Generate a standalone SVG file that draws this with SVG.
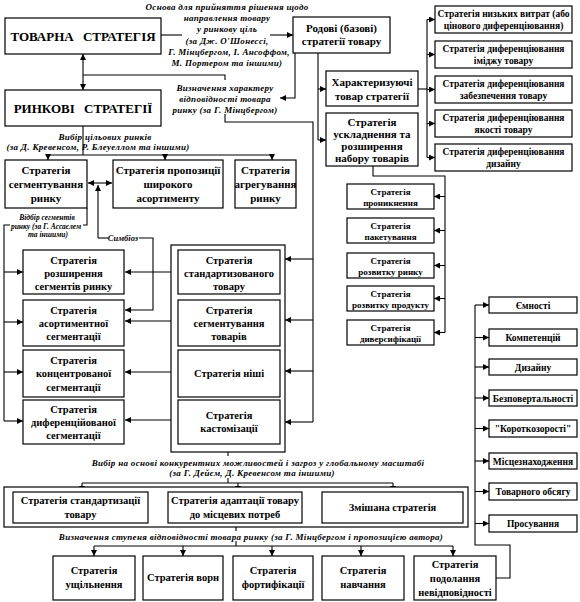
<svg xmlns="http://www.w3.org/2000/svg" width="580" height="602" viewBox="0 0 580 602">
<defs>
<marker id="a" markerUnits="userSpaceOnUse" markerWidth="7" markerHeight="6" refX="6" refY="3" orient="auto-start-reverse"><path d="M0,0 L6,3 L0,6 z" fill="#000"/></marker>
<style>
.b{fill:#fff;stroke:#000;stroke-width:1.2}
.t{font-family:"Liberation Serif",serif;font-weight:bold;text-anchor:middle;fill:#000}
.s9{font-size:9px}.s95{font-size:9.5px}.s10{font-size:10.5px}.s11{font-size:11px}.s14{font-size:13px;word-spacing:6px}
.i{font-family:"Liberation Serif",serif;font-weight:bold;font-style:italic;text-anchor:middle;fill:#000;font-size:9px;letter-spacing:0.3px}
.c{fill:none;stroke:#000;stroke-width:1.1}
.m{marker-end:url(#a)}
.d{marker-start:url(#a);marker-end:url(#a)}
</style>
</defs>
<rect width="580" height="602" fill="#fff"/>

<g id="connectors">
<path class="c d" d="M83,54 V90"/>
<path class="c" d="M83,75 H225 V80"/>
<path class="c" d="M225,114 V122 H313 V422"/>
<path class="c m" d="M313,259 H285"/>
<path class="c m" d="M313,320 H285"/>
<path class="c m" d="M313,371 H285"/>
<path class="c m" d="M313,422 H285"/>
<path class="c" d="M161,35 H182"/>
<path class="c m" d="M270,35 H293"/>
<path class="c m" d="M295,53 V98 H280"/>
<path class="c" d="M318,53 V140"/>
<path class="c m" d="M318,89 H326"/>
<path class="c m" d="M318,140 H326"/>
<path class="c" d="M418,89 H427"/>
<path class="c" d="M427,19.5 V157.5"/>
<path class="c m" d="M427,19.5 H435"/>
<path class="c m" d="M427,54.5 H435"/>
<path class="c m" d="M427,89.5 H435"/>
<path class="c m" d="M427,123.5 H435"/>
<path class="c m" d="M427,157.5 H435"/>
<path class="c" d="M373,166 V176 H445 V332.5"/>
<path class="c m" d="M445,196.5 H434"/>
<path class="c m" d="M445,230.5 H434"/>
<path class="c m" d="M445,265.5 H434"/>
<path class="c m" d="M445,298.5 H434"/>
<path class="c m" d="M445,332.5 H434"/>
<path class="c" d="M83,126 V155"/>
<path class="c" d="M48,155 H272"/>
<path class="c m" d="M48,155 V160"/>
<path class="c m" d="M165,155 V160"/>
<path class="c m" d="M272,155 V160"/>
<path class="c d" d="M88,183 H112"/>
<path class="c m" d="M98,238 V185"/>
<path class="c" d="M98,238 H108"/>
<path class="c m" d="M139,238 H153 V310 H125"/>
<path class="c" d="M87,208 V225 H83"/>
<path class="c" d="M10,225 H4 V421"/>
<path class="c m" d="M4,272 H23"/>
<path class="c m" d="M4,322 H23"/>
<path class="c m" d="M4,372 H23"/>
<path class="c m" d="M4,421 H23"/>
<path class="c d" d="M125,272 H178"/>
<path class="c d" d="M125,321 H178"/>
<path class="c d" d="M125,372 H178"/>
<path class="c d" d="M125,420 H178"/>
<path class="c" d="M228,452 V456"/>
<path class="c" d="M228,478 V483"/>
<path class="c" d="M82,483 H393"/>
<path class="c m" d="M82,483 V492"/>
<path class="c m" d="M238,483 V492"/>
<path class="c m" d="M393,483 V492"/>
<path class="c" d="M236,527 V531"/>
<path class="c" d="M236,541 V546"/>
<path class="c" d="M94,546 H453"/>
<path class="c m" d="M94,546 V556"/>
<path class="c m" d="M183,546 V556"/>
<path class="c m" d="M272,546 V556"/>
<path class="c m" d="M361,546 V556"/>
<path class="c m" d="M453,546 V556"/>
<path class="c" d="M496,578 H510 V545 H475 V305"/>
<path class="c m" d="M475,305 H489"/>
<path class="c m" d="M475,337.5 H489"/>
<path class="c m" d="M475,367 H489"/>
<path class="c m" d="M475,398 H489"/>
<path class="c m" d="M475,428.5 H489"/>
<path class="c m" d="M475,461 H489"/>
<path class="c m" d="M475,491.5 H489"/>
<path class="c m" d="M475,523.5 H489"/>
</g>

<g id="labels">
<text class="i"><tspan x="227" y="10">Основа для прийняття рішення щодо</tspan><tspan x="227" y="21">направлення товару</tspan><tspan x="227" y="32">у ринкову ціль</tspan><tspan x="227" y="44">(за Дж. О'Шонессі,</tspan><tspan x="229" y="55">Г. Мінцбергом, І. Ансоффом,</tspan><tspan x="227" y="66">М. Портером та іншими)</tspan></text>
<text class="i"><tspan x="225" y="91">Визначення характеру</tspan><tspan x="225" y="102">відповідності товара</tspan><tspan x="225" y="113">ринку (за Г. Мінцбергом)</tspan></text>
<text class="i"><tspan x="105" y="140">Вибір цільових ринків</tspan><tspan x="98" y="150">(за Д. Кревенсом, Р. Блеуеллом та іншими)</tspan></text>
<text class="i" style="font-size:7.5px;letter-spacing:0"><tspan x="47" y="220">Відбір сегментів</tspan><tspan x="46" y="228.5">ринку (за Г. Ассаєлем</tspan><tspan x="48" y="237">та іншими)</tspan></text>
<text class="i" x="123" y="241" style="font-size:8.5px;letter-spacing:0">Симбіоз</text>
<text class="i"><tspan x="258" y="466">Вибір на основі конкурентних можливостей і загроз у глобальному масштабі</tspan><tspan x="252" y="476">(за Г. Дейєм, Д. Кревенсом та іншими)</tspan></text>
<text class="i" x="251" y="540">Визначення ступеня відповідності товара ринку (за Г. Мінцбергом і пропозицією автора)</text>
</g>

<g id="tovarna"><rect class="b" x="5" y="18" width="156" height="36"/><text class="t s14" x="83" y="41">ТОВАРНА СТРАТЕГІЯ</text></g>
<g id="rynkovi"><rect class="b" x="5" y="90" width="156" height="36"/><text class="t s14" x="83" y="113">РИНКОВІ СТРАТЕГІЇ</text></g>
<g id="rodovi"><rect class="b" x="293" y="17" width="97" height="36"/><text class="t s11"><tspan x="341.5" y="32">Родові (базові)</tspan><tspan x="341.5" y="45">стратегії товару</tspan></text></g>

<g id="nyzkykh"><rect class="b" x="435" y="6" width="137" height="27"/><text class="t s95"><tspan x="503.5" y="17">Стратегія низьких витрат (або</tspan><tspan x="503.5" y="28.5">цінового диференціювання)</tspan></text></g>
<g id="imidzh"><rect class="b" x="435" y="41" width="137" height="27"/><text class="t s95"><tspan x="503.5" y="52">Стратегія диференціювання</tspan><tspan x="503.5" y="63.5">іміджу товару</tspan></text></g>
<g id="zabezpechennia"><rect class="b" x="435" y="76" width="137" height="27"/><text class="t s95"><tspan x="503.5" y="87">Стратегія диференціювання</tspan><tspan x="503.5" y="98.5">забезпечення товару</tspan></text></g>
<g id="yakosti"><rect class="b" x="435" y="110" width="137" height="27"/><text class="t s95"><tspan x="503.5" y="121">Стратегія диференціювання</tspan><tspan x="503.5" y="132.5">якості товару</tspan></text></g>
<g id="dyzainu"><rect class="b" x="435" y="144" width="137" height="27"/><text class="t s95"><tspan x="503.5" y="155">Стратегія диференціювання</tspan><tspan x="503.5" y="166.5">дизайну</tspan></text></g>

<g id="kharakteryzuiuchi"><rect class="b" x="326" y="71" width="92" height="35"/><text class="t s11"><tspan x="372" y="86">Характеризуючі</tspan><tspan x="372" y="100">товар стратегії</tspan></text></g>
<g id="uskladnennia"><rect class="b" x="326" y="113" width="92" height="53"/><text class="t s11"><tspan x="372" y="126">Стратегія</tspan><tspan x="372" y="138">ускладнення та</tspan><tspan x="372" y="150">розширення</tspan><tspan x="372" y="162">набору товарів</tspan></text></g>

<g id="pronyknennia"><rect class="b" x="347" y="184" width="87" height="25"/><text class="t s9"><tspan x="390.5" y="195">Стратегія</tspan><tspan x="390.5" y="206">проникнення</tspan></text></g>
<g id="paketuvannia"><rect class="b" x="347" y="218" width="87" height="25"/><text class="t s9"><tspan x="390.5" y="229">Стратегія</tspan><tspan x="390.5" y="240">пакетування</tspan></text></g>
<g id="rozvytku-rynku"><rect class="b" x="347" y="253" width="87" height="25"/><text class="t s9"><tspan x="390.5" y="264">Стратегія</tspan><tspan x="390.5" y="275">розвитку ринку</tspan></text></g>
<g id="rozvytku-produktu"><rect class="b" x="347" y="286" width="87" height="25"/><text class="t s9"><tspan x="390.5" y="297">Стратегія</tspan><tspan x="390.5" y="308">розвитку продукту</tspan></text></g>
<g id="dyversyfikatsii"><rect class="b" x="347" y="320" width="87" height="25"/><text class="t s9"><tspan x="390.5" y="331">Стратегія</tspan><tspan x="390.5" y="342">диверсифікації</tspan></text></g>

<g id="segmentuvannia-rynku"><rect class="b" x="5" y="160" width="82" height="48"/><text class="t s11"><tspan x="46" y="174">Стратегія</tspan><tspan x="46" y="188">сегментування</tspan><tspan x="46" y="202">ринку</tspan></text></g>
<g id="shyrokoho"><rect class="b" x="113" y="160" width="110" height="48"/><text class="t s11"><tspan x="168" y="174">Стратегія пропозиції</tspan><tspan x="168" y="188">широкого</tspan><tspan x="168" y="202">асортименту</tspan></text></g>
<g id="ahrehuvannia"><rect class="b" x="235" y="160" width="61" height="48"/><text class="t s11"><tspan x="265.5" y="174">Стратегія</tspan><tspan x="265.5" y="188">агрегування</tspan><tspan x="265.5" y="202">ринку</tspan></text></g>

<g id="rozshyrennia"><rect class="b" x="23" y="250" width="101" height="44"/><text class="t s10"><tspan x="73.5" y="264">Стратегія</tspan><tspan x="73.5" y="277">розширення</tspan><tspan x="73.5" y="290">сегментів ринку</tspan></text></g>
<g id="asortymentnoi"><rect class="b" x="23" y="300" width="101" height="46"/><text class="t s10"><tspan x="73.5" y="314">Стратегія</tspan><tspan x="73.5" y="327">асортиментної</tspan><tspan x="73.5" y="340">сегментації</tspan></text></g>
<g id="kontsentrovanoi"><rect class="b" x="23" y="350" width="101" height="47"/><text class="t s10"><tspan x="73.5" y="364">Стратегія</tspan><tspan x="73.5" y="377">концентрованої</tspan><tspan x="73.5" y="391">сегментації</tspan></text></g>
<g id="dyferentsiiovanoi"><rect class="b" x="23" y="400" width="101" height="44"/><text class="t s10"><tspan x="73.5" y="413">Стратегія</tspan><tspan x="73.5" y="426">диференційованої</tspan><tspan x="73.5" y="439">сегментації</tspan></text></g>

<g id="group-right"><rect class="b" x="171" y="245" width="114" height="207"/></g>
<g id="standartyzovanoho"><rect class="b" x="178" y="250" width="102" height="44"/><text class="t s10"><tspan x="229" y="264">Стратегія</tspan><tspan x="229" y="277">стандартизованого</tspan><tspan x="229" y="290">товару</tspan></text></g>
<g id="segmentuvannia-tovariv"><rect class="b" x="178" y="300" width="102" height="46"/><text class="t s10"><tspan x="229" y="314">Стратегія</tspan><tspan x="229" y="327">сегментування</tspan><tspan x="229" y="340">товарів</tspan></text></g>
<g id="nishi"><rect class="b" x="178" y="350" width="102" height="47"/><text class="t s10" x="229" y="377">Стратегія ніші</text></g>
<g id="kastomizatsii"><rect class="b" x="178" y="400" width="102" height="44"/><text class="t s10"><tspan x="229" y="419">Стратегія</tspan><tspan x="229" y="432">кастомізації</tspan></text></g>

<g id="group-global"><rect class="b" x="4" y="487" width="464" height="40"/></g>
<g id="standartyzatsii"><rect class="b" x="13" y="492" width="135" height="31"/><text class="t s10"><tspan x="80.5" y="504">Стратегія стандартизації</tspan><tspan x="80.5" y="518">товару</tspan></text></g>
<g id="adaptatsii"><rect class="b" x="168" y="492" width="134" height="31"/><text class="t s10"><tspan x="235" y="504">Стратегія адаптації товару</tspan><tspan x="235" y="518">до місцевих потреб</tspan></text></g>
<g id="zmishana"><rect class="b" x="322" y="492" width="141" height="31"/><text class="t s10" x="392.5" y="511">Змішана стратегія</text></g>

<g id="ushchilnennia"><rect class="b" x="53" y="556" width="82" height="44"/><text class="t s10"><tspan x="94" y="574">Стратегія</tspan><tspan x="94" y="588">ущільнення</tspan></text></g>
<g id="vorn"><rect class="b" x="143" y="556" width="80" height="44"/><text class="t s10" x="183" y="581">Стратегія ворн</text></g>
<g id="fortyfikatsii"><rect class="b" x="233" y="556" width="80" height="44"/><text class="t s10"><tspan x="273" y="574">Стратегія</tspan><tspan x="273" y="588">фортифікації</tspan></text></g>
<g id="navchannia"><rect class="b" x="322" y="556" width="82" height="44"/><text class="t s10"><tspan x="363" y="574">Стратегія</tspan><tspan x="363" y="588">навчання</tspan></text></g>
<g id="podolannia"><rect class="b" x="414" y="556" width="82" height="44"/><text class="t s10"><tspan x="455" y="568">Стратегія</tspan><tspan x="455" y="582">подолання</tspan><tspan x="455" y="596">невідповідності</tspan></text></g>

<g id="yemnosti"><rect class="b" x="489" y="297" width="88" height="16"/><text class="t s95" x="533" y="308.5">Ємності</text></g>
<g id="kompetentsii"><rect class="b" x="489" y="329" width="88" height="17"/><text class="t s95" x="533" y="341">Компетенцій</text></g>
<g id="dyzainu2"><rect class="b" x="489" y="359" width="88" height="16"/><text class="t s95" x="533" y="370.5">Дизайну</text></g>
<g id="bezpovertalnosti"><rect class="b" x="489" y="390" width="88" height="16"/><text class="t s95" x="533" y="401.5">Безповертальності</text></g>
<g id="korotkozorosti"><rect class="b" x="489" y="420" width="88" height="17"/><text class="t s95" x="533" y="432">"Короткозорості"</text></g>
<g id="mistseznakhodzhennia"><rect class="b" x="489" y="453" width="88" height="16"/><text class="t s95" x="533" y="464.5">Місцезнаходження</text></g>
<g id="tovarnoho-obsiahu"><rect class="b" x="489" y="483" width="88" height="17"/><text class="t s95" x="533" y="495">Товарного обсягу</text></g>
<g id="prosuvannia"><rect class="b" x="489" y="515" width="88" height="17"/><text class="t s95" x="533" y="527">Просування</text></g>
</svg>
